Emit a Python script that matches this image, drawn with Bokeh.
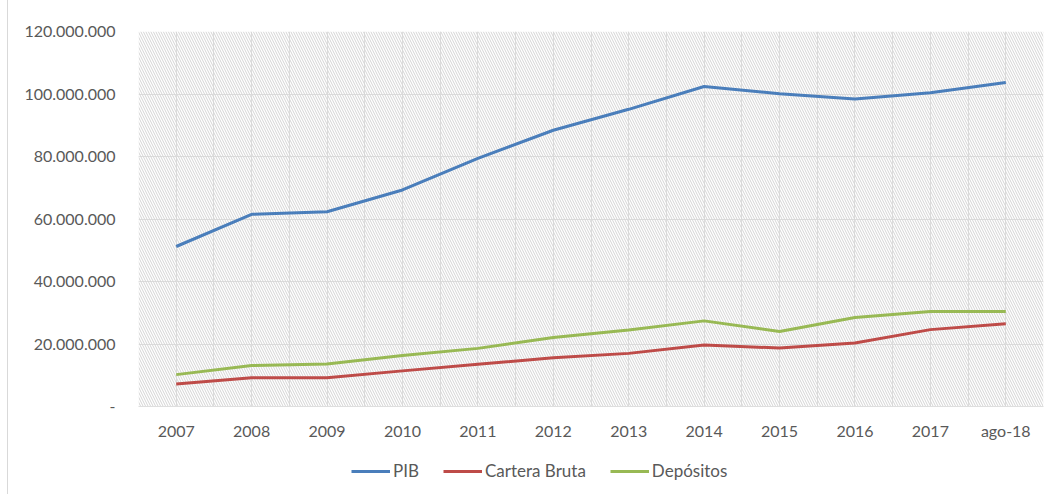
from bokeh.plotting import figure
from bokeh.layouts import column
from bokeh.models import FixedTicker, BoxAnnotation, Legend, LegendItem, ColumnDataSource, Range1d
from bokeh.embed import file_html
from bokeh.resources import INLINE

categories = ["2007", "2008", "2009", "2010", "2011", "2012", "2013", "2014",
              "2015", "2016", "2017", "ago-18"]
pib = [51.2e6, 61.5e6, 62.3e6, 69.3e6, 79.4e6, 88.4e6, 95.1e6, 102.4e6,
       100.1e6, 98.4e6, 100.4e6, 103.7e6]
cartera_bruta = [7.2e6, 9.2e6, 9.2e6, 11.4e6, 13.5e6, 15.6e6, 17.0e6, 19.7e6,
                 18.7e6, 20.3e6, 24.6e6, 26.5e6]
depositos = [10.2e6, 13.1e6, 13.6e6, 16.3e6, 18.6e6, 22.1e6, 24.5e6, 27.4e6,
             24.0e6, 28.5e6, 30.4e6, 30.4e6]
series_names = ["PIB", "Cartera Bruta", "Depósitos"]
y_ticks = [0, 20e6, 40e6, 60e6, 80e6, 100e6, 120e6]
y_tick_labels = ["-", "20.000.000", "40.000.000", "60.000.000", "80.000.000",
                 "100.000.000", "120.000.000"]

FONT = "Lato"
TXT = "#595959"
GRID = "#dedede"
COLORS = ["#4a7ebb", "#be4b48", "#98b954"]

xpos = [i + 0.5 for i in range(len(categories))]
src = ColumnDataSource(dict(x=xpos, cat=categories, pib=pib, cb=cartera_bruta, dep=depositos))

p = figure(width=1041, height=442, output_backend="svg", toolbar_location=None,
           x_range=Range1d(0, len(categories)), y_range=Range1d(0, y_ticks[-1]),
           min_border_left=130, min_border_right=6, min_border_top=31, min_border_bottom=35,
           outline_line_color=None, background_fill_color="white", border_fill_color="white")

hatch = BoxAnnotation(left=0, right=len(categories), bottom=0, top=y_ticks[-1],
                      fill_alpha=0, line_alpha=0, hatch_pattern="left_diagonal_line",
                      hatch_color="#d4d4d4", hatch_scale=5, hatch_weight=1, level="underlay")
p.add_layout(hatch)

p.xaxis.ticker = FixedTicker(ticks=xpos)
p.xaxis.major_label_overrides = {x: c for x, c in zip(xpos, categories)}
p.xaxis.axis_line_color = GRID
p.xaxis.major_tick_line_color = None
p.xaxis.minor_tick_line_color = None
p.xaxis.major_label_text_font = FONT
p.xaxis.major_label_text_font_size = "16px"
p.xaxis.major_label_text_color = TXT
p.xaxis.major_label_standoff = 8

p.yaxis.ticker = FixedTicker(ticks=y_ticks)
p.yaxis.major_label_overrides = {t: l for t, l in zip(y_ticks, y_tick_labels)}
p.yaxis.axis_line_color = None
p.yaxis.major_tick_line_color = None
p.yaxis.minor_tick_line_color = None
p.yaxis.major_label_text_font = FONT
p.yaxis.major_label_text_font_size = "16px"
p.yaxis.major_label_text_color = TXT
p.yaxis.major_label_standoff = 17

p.xgrid.ticker = FixedTicker(ticks=[k * 0.5 for k in range(2 * len(categories) + 1)])
p.xgrid.grid_line_color = GRID
p.ygrid.ticker = FixedTicker(ticks=y_ticks)
p.ygrid.grid_line_color = GRID

for col, c in zip(["pib", "cb", "dep"], COLORS):
    p.line("x", col, source=src, line_color=c, line_width=3)

# legend strip (frame is aligned with the main plot's frame by the column layout)
p2 = figure(width=1041, height=52, output_backend="svg", toolbar_location=None,
            x_range=Range1d(0, 1), y_range=Range1d(0, 1),
            min_border_left=0, min_border_right=0, min_border_top=0, min_border_bottom=0,
            outline_line_color=None, x_axis_type=None, y_axis_type=None,
            background_fill_color="white", border_fill_color="white")
p2.grid.visible = False
items = []
for name, c in zip(series_names, COLORS):
    r = p2.line(x=[-1.0, -0.5], y=[float("nan"), float("nan")], line_color=c, line_width=3)
    items.append(LegendItem(label=name, renderers=[r]))
legend = Legend(items=items, orientation="horizontal", location=(213, 13),
                border_line_alpha=0, background_fill_alpha=0,
                glyph_width=39, glyph_height=16, label_standoff=3, spacing=24,
                padding=0, margin=0,
                label_text_font=FONT, label_text_font_size="17px", label_text_color=TXT)
p2.add_layout(legend, "center")

layout = column(p, p2, spacing=0,
                styles={"margin-left": "7px", "border-left": "1px solid #d9d9d9"})

open("out.html", "w").write(file_html(layout, INLINE))
